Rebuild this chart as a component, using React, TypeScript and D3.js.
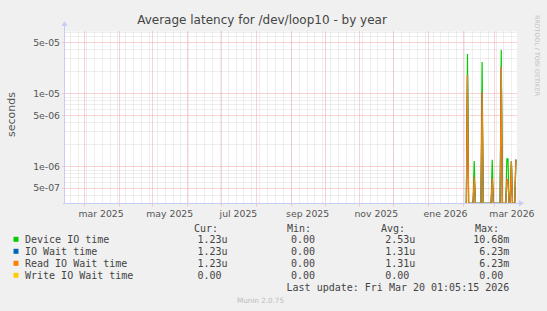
import * as d3 from "d3";

const width = 547;
const height = 311;
const plot = { left: 64.5, right: 517, top: 31.5, bottom: 203.3 };

const timeStart = "2025-02-12";
const timeEnd = "2026-03-21";
const yDomain = [3.1e-7, 7e-5];

const majorTicks = [5e-7, 1e-6, 5e-6, 1e-5, 5e-5];
const majorTickLabels = ["5e-07", "1e-06", "5e-06", "1e-05", "5e-05"];

const monthLabelStarts = ["2025-03-01", "2025-05-01", "2025-07-01", "2025-09-01", "2025-11-01", "2026-01-01", "2026-03-01"];
const monthLabels = ["mar 2025", "may 2025", "jul 2025", "sep 2025", "nov 2025", "ene 2026", "mar 2026"];

const sampleDates = [
  "2026-02-03", "2026-02-04", "2026-02-05", "2026-02-06", "2026-02-10", "2026-02-11", "2026-02-12",
  "2026-02-17", "2026-02-18", "2026-02-19", "2026-02-26", "2026-02-27", "2026-02-28", "2026-03-06",
  "2026-03-07", "2026-03-08", "2026-03-11", "2026-03-12", "2026-03-13", "2026-03-14", "2026-03-15",
  "2026-03-16", "2026-03-17", "2026-03-19", "2026-03-20"
];
const deviceIO = [
  0, 0, 3.45e-5, 0, 0, 1.18e-6, 0,
  0, 2.68e-5, 0, 0, 1.22e-6, 0, 0,
  3.92e-5, 0, 0, 1.26e-6, 1.26e-6, 0, 0,
  1.16e-6, 0, 0, 1.23e-6
];
const ioWait = [
  0, 0, 1.78e-5, 0, 0, 7.2e-7, 0,
  0, 1.02e-5, 0, 0, 6.9e-7, 0, 0,
  2.31e-5, 0, 0, 6.6e-7, 6.3e-7, 0, 0,
  1.16e-6, 0, 0, 1.23e-6
];
const readIOWait = [
  0, 0, 1.78e-5, 0, 0, 7.2e-7, 0,
  0, 1.02e-5, 0, 0, 6.9e-7, 0, 0,
  2.31e-5, 0, 0, 6.6e-7, 6.3e-7, 0, 0,
  1.16e-6, 0, 0, 1.23e-6
];
const writeIOWait = [
  0, 0, 0, 0, 0, 0, 0,
  0, 0, 0, 0, 0, 0, 0,
  0, 0, 0, 0, 0, 0, 0,
  0, 0, 0, 0
];

const legendNames = ["Device IO time", "IO Wait time", "Read IO Wait time", "Write IO Wait time"];
const legendColors = ["#00cc00", "#0066b3", "#ff8000", "#ffcc00"];
const curValues = ["1.23u", "1.23u", "1.23u", "0.00"];
const minValues = ["0.00", "0.00", "0.00", "0.00"];
const avgValues = ["2.53u", "1.31u", "1.31u", "0.00"];
const maxValues = ["10.68m", "6.23m", "6.23m", "0.00"];
const columnHeaders = ["Cur:", "Min:", "Avg:", "Max:"];

const mono = "'DejaVu Sans Mono', monospace";
const sans = "'DejaVu Sans', sans-serif";
const charW = 6.02;
const headerX = [194, 287, 381, 475];
const columnRight = [227.5, 321, 415.3, 509.3];

const parse = d3.timeParse("%Y-%m-%d");

export default function App() {
  const x = d3.scaleTime().domain([parse(timeStart)!, parse(timeEnd)!]).range([plot.left, plot.right]);
  const y = d3.scaleLog().domain(yDomain).range([plot.bottom, plot.top]).clamp(true);

  const minorY = y.ticks().filter((t) => !majorTicks.some((m) => Math.abs(m - t) / m < 1e-6));
  const weeks = d3.timeMonday.range(x.domain()[0], x.domain()[1]);
  const months = d3.timeMonth.range(x.domain()[0], x.domain()[1]);
  const dates = sampleDates.map((d) => parse(d)!);

  // zeros sit on the bottom edge (clamped log scale)
  const line = d3
    .line<number>()
    .x((_, i) => x(dates[i]))
    .y((v) => y(v));
  // all-zero series has nothing to show on a log axis
  const positiveLine = d3
    .line<number>()
    .defined((v) => v > 0)
    .x((_, i) => x(dates[i]))
    .y((v) => y(v));

  const series = [
    { values: deviceIO, color: legendColors[0], gen: line },
    { values: ioWait, color: legendColors[1], gen: line },
    { values: readIOWait, color: legendColors[2], gen: line },
    { values: writeIOWait, color: legendColors[3], gen: positiveLine }
  ];

  const valueX = (col: number, s: string) => (/\d$/.test(s) ? columnRight[col] - charW : columnRight[col]);
  const axisColor = "#c8ccf4";
  const minorGrid = "#dcdcdc";
  const majorGrid = "#f2a6a6";

  return (
    <svg
      width={width}
      height={height}
      style={{ position: "absolute", left: 0, top: 0, display: "block", background: "#f0f0f0" }}
    >
      <rect x={0} y={0} width={width} height={height} fill="#f0f0f0" />
      <rect x={plot.left} y={plot.top} width={plot.right - plot.left} height={plot.bottom - plot.top} fill="#ffffff" />

      <text x={262} y={24} textAnchor="middle" fontFamily={sans} fontSize={12} fill="#444">
        Average latency for /dev/loop10 - by year
      </text>

      <g>
        {minorY.map((t) => (
          <line key={`my${t}`} x1={plot.left} x2={plot.right} y1={Math.round(y(t)) + 0.5} y2={Math.round(y(t)) + 0.5} stroke={minorGrid} strokeDasharray="1,1" />
        ))}
        {weeks.map((d) => (
          <line key={`mx${+d}`} x1={Math.round(x(d)) + 0.5} x2={Math.round(x(d)) + 0.5} y1={plot.top} y2={plot.bottom} stroke={minorGrid} strokeDasharray="1,1" />
        ))}
        {majorTicks.map((t) => (
          <line key={`My${t}`} x1={plot.left - 2} x2={plot.right} y1={Math.round(y(t)) + 0.5} y2={Math.round(y(t)) + 0.5} stroke={majorGrid} strokeDasharray="1,1" />
        ))}
        {months.map((d) => (
          <line key={`Mx${+d}`} x1={Math.round(x(d)) + 0.5} x2={Math.round(x(d)) + 0.5} y1={plot.top} y2={plot.bottom + 3} stroke={majorGrid} strokeDasharray="1,1" />
        ))}
      </g>

      {majorTicks.map((t, i) => (
        <text key={`yl${t}`} x={60} y={y(t)} dy="0.36em" textAnchor="end" fontFamily={sans} fontSize={9.3} fill="#555">
          {majorTickLabels[i]}
        </text>
      ))}
      {monthLabelStarts.map((s, i) => {
        const d0 = parse(s)!;
        const d1 = d3.timeMonth.offset(d0, 1);
        return (
          <text key={s} x={(x(d0) + x(d1)) / 2} y={216.7} textAnchor="middle" fontFamily={sans} fontSize={9.3} fill="#555">
            {monthLabels[i]}
          </text>
        );
      })}

      <text
        transform={`translate(15,114.5) rotate(-90)`}
        textAnchor="middle"
        fontFamily={sans}
        fontSize={11}
        fill="#555"
      >
        seconds
      </text>

      {series.map((s, i) => (
        <path key={i} d={s.gen(s.values) ?? ""} fill="none" stroke={s.color} strokeWidth={1.2} />
      ))}

      {/* axes */}
      <line x1={plot.left} x2={plot.left} y1={plot.bottom + 1} y2={25} stroke={axisColor} shapeRendering="crispEdges" />
      <path d={`M${plot.left - 3},26 L${plot.left + 3},26 L${plot.left},21 Z`} fill={axisColor} />
      <line x1={plot.left - 2} x2={520} y1={plot.bottom} y2={plot.bottom} stroke={axisColor} shapeRendering="crispEdges" />
      <path d={`M519,${plot.bottom - 3} L519,${plot.bottom + 3} L524,${plot.bottom} Z`} fill={axisColor} />

      <text
        transform={`translate(535,15) rotate(90)`}
        fontFamily={sans}
        fontSize={6.3}
        fill="#c0c0c0"
      >
        RRDTOOL / TOBI OETIKER
      </text>

      {/* legend */}
      {columnHeaders.map((h, i) => (
        <text key={h} x={headerX[i]} y={231.5} fontFamily={mono} fontSize={10} fill="#444">
          {h}
        </text>
      ))}
      {legendNames.map((name, i) => {
        const by = 243.3 + i * 12;
        return (
          <g key={name} fontFamily={mono} fontSize={10} fill="#444">
            <rect x={13.5} y={by - 6.5} width={5} height={5} fill={legendColors[i]} />
            <text x={25} y={by}>{name}</text>
            <text x={valueX(0, curValues[i])} y={by} textAnchor="end">{curValues[i]}</text>
            <text x={valueX(1, minValues[i])} y={by} textAnchor="end">{minValues[i]}</text>
            <text x={valueX(2, avgValues[i])} y={by} textAnchor="end">{avgValues[i]}</text>
            <text x={valueX(3, maxValues[i])} y={by} textAnchor="end">{maxValues[i]}</text>
          </g>
        );
      })}
      <text x={509.3} y={291.3} textAnchor="end" fontFamily={mono} fontSize={10} fill="#444">
        Last update: Fri Mar 20 01:05:15 2026
      </text>
      <text x={260.5} y={303} textAnchor="middle" fontFamily={sans} fontSize={7.2} fill="#bbbbbb">
        Munin 2.0.75
      </text>
    </svg>
  );
}
